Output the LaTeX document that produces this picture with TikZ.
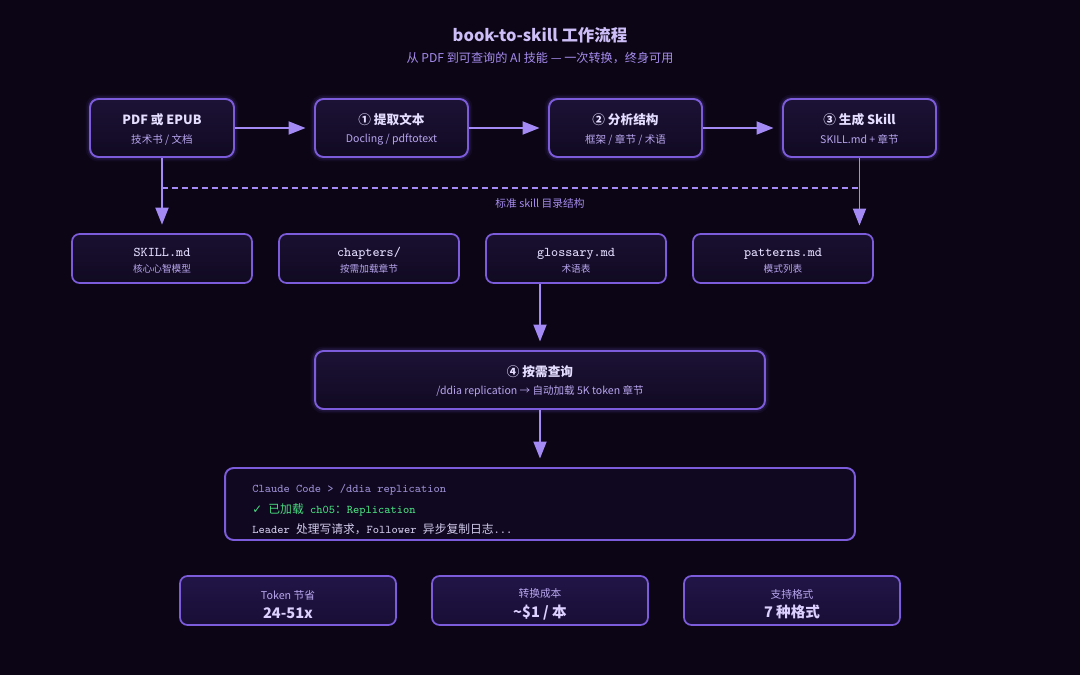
\documentclass[tikz,border=0pt]{standalone}
\usepackage{fontspec}
\setmainfont{Noto Sans CJK SC}
\newfontfamily\cjk{Noto Sans CJK SC}
\newfontfamily\symb{DejaVu Sans}
\usetikzlibrary{arrows.meta,positioning}

\definecolor{bgcol}{HTML}{0B0515}
\definecolor{edgecol}{HTML}{7C5CDB}
\definecolor{flowcol}{HTML}{A38AF5}
\definecolor{titlecol}{HTML}{CDBEF7}
\definecolor{subtitlecol}{HTML}{A68CEE}
\definecolor{headcol}{HTML}{E6DEFF}
\definecolor{subcol}{HTML}{B8A5EE}
\definecolor{valuecol}{HTML}{DCD0FF}
\definecolor{filetop}{HTML}{1C1236}
\definecolor{filebot}{HTML}{110A22}
\definecolor{stattop}{HTML}{211547}
\definecolor{statbot}{HTML}{180E35}
\definecolor{termfill}{HTML}{0F0820}
\definecolor{promptcol}{HTML}{9C8ED2}
\definecolor{okcol}{HTML}{4ADE80}
\definecolor{logcol}{HTML}{D2CAEA}

\tikzset{
  glow/.style={preaction={draw=edgecol, line width=5pt, opacity=0.08},
    preaction={draw=edgecol, line width=3pt, opacity=0.12}},
  stepbox/.style={draw=edgecol, line width=1.1pt, rounded corners=0.17cm,
    top color=filetop, bottom color=filebot, align=center, inner sep=0pt,
    minimum height=1.16cm, text=headcol},
  filebox/.style={draw=edgecol, line width=1pt, rounded corners=0.15cm,
    top color=filetop!85!bgcol, bottom color=filebot, align=center, inner sep=0pt,
    minimum width=3.6cm, minimum height=0.98cm, text=headcol},
  statbox/.style={filebox, minimum width=4.32cm, top color=stattop, bottom color=statbot},
  flow/.style={draw=flowcol, line width=1.1pt,
    -{Triangle[length=0.34cm,width=0.26cm]}, shorten >=0.17cm},
  termline/.style={anchor=west, inner sep=0pt, font=\ttfamily\fontsize{6.7}{7}\selectfont}
}

% box text: bold head line, small second line
\newcommand{\steptext}[2]{{\rule{0pt}{7.6pt}\fontsize{7.2}{8}\selectfont\bfseries #1}\\[-1.4pt]{\fontsize{6}{6}\selectfont\color{subcol}#2}}
\newcommand{\filetext}[2]{{\rule{0pt}{7.4pt}\ttfamily\fontsize{7.6}{8}\selectfont #1}\\[-2.9pt]{\fontsize{5.5}{6}\selectfont\color{subcol}#2}}
\newcommand{\stattext}[2]{{\rule{0pt}{9.5pt}\fontsize{6.1}{6}\selectfont\color{subcol}#1}\\[-1.1pt]{\fontsize{8.3}{9}\selectfont\bfseries\color{valuecol}#2}}

\begin{document}
\begin{tikzpicture}[x=0.02cm,y=-0.02cm]
  \fill[bgcol] (0,0) rectangle (1080,675);
  \useasboundingbox (0,0) rectangle (1080,675);

  % title
  \node[text=titlecol, font=\bfseries\fontsize{9.35}{10}\selectfont] (title) at (540,35) {book-to-skill 工作流程};
  \node[text=subtitlecol, font=\fontsize{6.9}{8}\selectfont] (subtitle) at (540,58) {从 PDF 到可查询的 AI 技能 — 一次转换，终身可用};

  % pipeline
  \node[stepbox, glow, minimum width=2.88cm] (pdf) at (162,128) {\steptext{PDF 或 EPUB}{技术书 / 文档}};
  \node[stepbox, glow, minimum width=3.06cm] (extract) at (391.5,128) {\steptext{① 提取文本}{Docling / pdftotext}};
  \node[stepbox, glow, minimum width=3.06cm] (analyze) at (625.5,128) {\steptext{② 分析结构}{框架 / 章节 / 术语}};
  \node[stepbox, glow, minimum width=3.06cm] (generate) at (859.5,128) {\steptext{③ 生成 Skill}{SKILL.md + 章节}};

  \draw[flow] (pdf) -- (extract);
  \draw[flow] (extract) -- (analyze);
  \draw[flow] (analyze) -- (generate);

  % skill folder
  \node[filebox] (skillmd) at (162,258.5) {\filetext{SKILL.md}{核心心智模型}};
  \node[filebox] (chapters) at (369,258.5) {\filetext{chapters/}{按需加载章节}};
  \node[filebox] (glossary) at (576,258.5) {\filetext{glossary.md}{术语表}};
  \node[filebox] (patterns) at (783,258.5) {\filetext{patterns.md}{模式列表}};

  \coordinate (genend) at (859.5,234);
  \coordinate (dashL) at (162,188);
  \coordinate (dashR) at (859.5,188);
  \draw[flow] (pdf.south) -- (skillmd.north);
  \draw[flow] (generate.south) -- (genend);
  \draw[flowcol, line width=0.9pt, dash pattern=on 0.12cm off 0.08cm] (dashL) -- (dashR);
  \node[text=subtitlecol, font=\fontsize{6.1}{7}\selectfont] (folderlabel) at (540,203) {标准 skill 目录结构};

  % query
  \node[stepbox, glow, minimum width=9cm] (query) at (540,380) {\steptext{④ 按需查询}{/ddia replication → 自动加载 5K token 章节}};
  \draw[flow] (query.north |- glossary.south) -- (query.north);

  % terminal
  \node[draw=edgecol, line width=1.1pt, rounded corners=0.17cm, fill=termfill,
    minimum width=12.6cm, minimum height=1.44cm] (term) at (540,504) {};
  \draw[flow] (query.south) -- (term.north);
  \node[termline, text=promptcol] (term1) at (252,489.5) {Claude Code > /ddia replication};
  \node[termline, text=okcol] (term2) at (252,509.5) {{\symb\fontsize{6.7}{7}\selectfont ✓} {\cjk 已加载} ch05{\cjk ：}Replication};
  \node[termline, text=logcol] (term3) at (252,529.5) {Leader {\cjk 处理写请求，}Follower {\cjk 异步复制日志}...};

  % stats
  \node[statbox] (savings) at (288,600.5) {\stattext{Token 节省}{24-51x}};
  \node[statbox] (cost) at (540,600.5) {\stattext{转换成本}{\textasciitilde\$1 / 本}};
  \node[statbox] (formats) at (792,600.5) {\stattext{支持格式}{7 种格式}};
\end{tikzpicture}
\end{document}
